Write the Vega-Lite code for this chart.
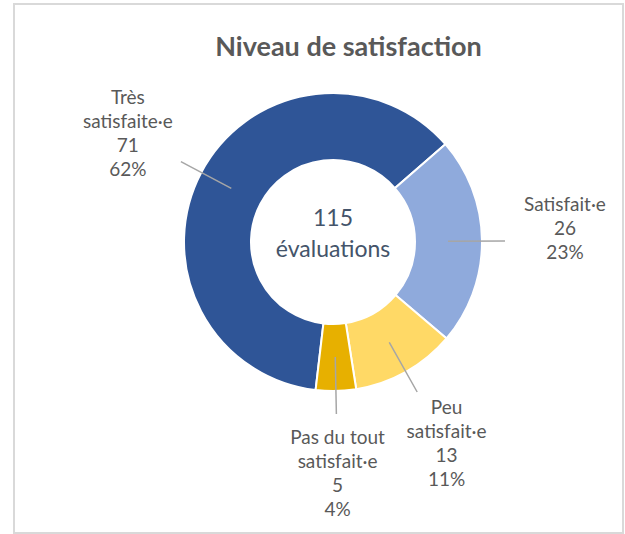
{
  "$schema": "https://vega.github.io/schema/vega-lite/v6.json",
  "width": 609,
  "height": 529,
  "autosize": "none",
  "padding": {"left": 14, "top": 4, "right": 2, "bottom": 1},
  "background": "white",
  "view": {"stroke": "#d9d9d9", "strokeWidth": 2},
  "config": {"view": {"stroke": "#d9d9d9", "strokeWidth": 2}, "font": "Lato"},
  "title": {
    "text": "Niveau de satisfaction",
    "font": "Lato",
    "fontSize": 27,
    "fontWeight": "bold",
    "color": "#595959",
    "anchor": "middle",
    "frame": "group",
    "offset": -79,
    "baseline": "alphabetic",
    "dx": 30
  },
  "data": {
    "values": [
      {"category": "Très satisfaite·e", "count": 71, "rank": 1, "label": ["Très", "satisfaite·e", "71", "62%"]},
      {"category": "Satisfait·e", "count": 26, "rank": 2, "label": ["Satisfait·e", "26", "23%"]},
      {"category": "Peu satisfait·e", "count": 13, "rank": 3, "label": ["Peu", "satisfait·e", "13", "11%"]},
      {"category": "Pas du tout satisfait·e", "count": 5, "rank": 4, "label": ["Pas du tout", "satisfait·e", "5", "4%"]}
    ]
  },
  "transform": [
    {"window": [{"op": "sum", "field": "count", "as": "cum"}], "sort": [{"field": "rank"}], "frame": [null, 0]},
    {"calculate": "datum.cum - datum.count/2", "as": "mid"}
  ],
  "layer": [
    {
      "mark": {"type": "arc", "outerRadius": 149, "innerRadius": 82, "stroke": "white", "strokeWidth": 2, "x": 319, "y": 238},
      "encoding": {
        "theta": {"field": "count", "type": "quantitative", "stack": true, "scale": {"domain": [0, 115], "range": [3.2585, 9.5417]}},
        "order": {"field": "rank", "type": "quantitative"},
        "color": {
          "field": "category",
          "type": "nominal",
          "scale": {
            "domain": ["Très satisfaite·e", "Satisfait·e", "Peu satisfait·e", "Pas du tout satisfait·e"],
            "range": ["#2F5597", "#8FAADC", "#FFD966", "#E7B000"]
          },
          "legend": null
        }
      }
    },
    {
      "mark": {"type": "arc", "outerRadius": 172, "innerRadius": 115, "stroke": "#A6A6A6", "strokeWidth": 1.5, "fillOpacity": 0, "x": 319, "y": 238},
      "encoding": {
        "theta": {"field": "mid", "type": "quantitative", "scale": {"domain": [0, 115], "range": [3.2585, 9.5417]}},
        "theta2": {"field": "mid"}
      }
    },
    {
      "mark": {"type": "text", "radius": 232, "x": 319, "y": 238, "dy": -36, "fontSize": 19, "lineHeight": 24, "color": "#595959", "align": "center", "baseline": "middle", "font": "Lato"},
      "encoding": {
        "theta": {"field": "mid", "type": "quantitative", "scale": {"domain": [0, 115], "range": [3.2585, 9.5417]}},
        "text": {"field": "label", "type": "nominal"}
      }
    },
    {
      "data": {"values": [{"t": ["115", "évaluations"]}]},
      "mark": {"type": "text", "x": 319, "y": 215, "fontSize": 23, "lineHeight": 31, "color": "#44546A", "align": "center", "baseline": "middle", "font": "Lato"},
      "encoding": {"text": {"field": "t", "type": "nominal"}}
    }
  ]
}
